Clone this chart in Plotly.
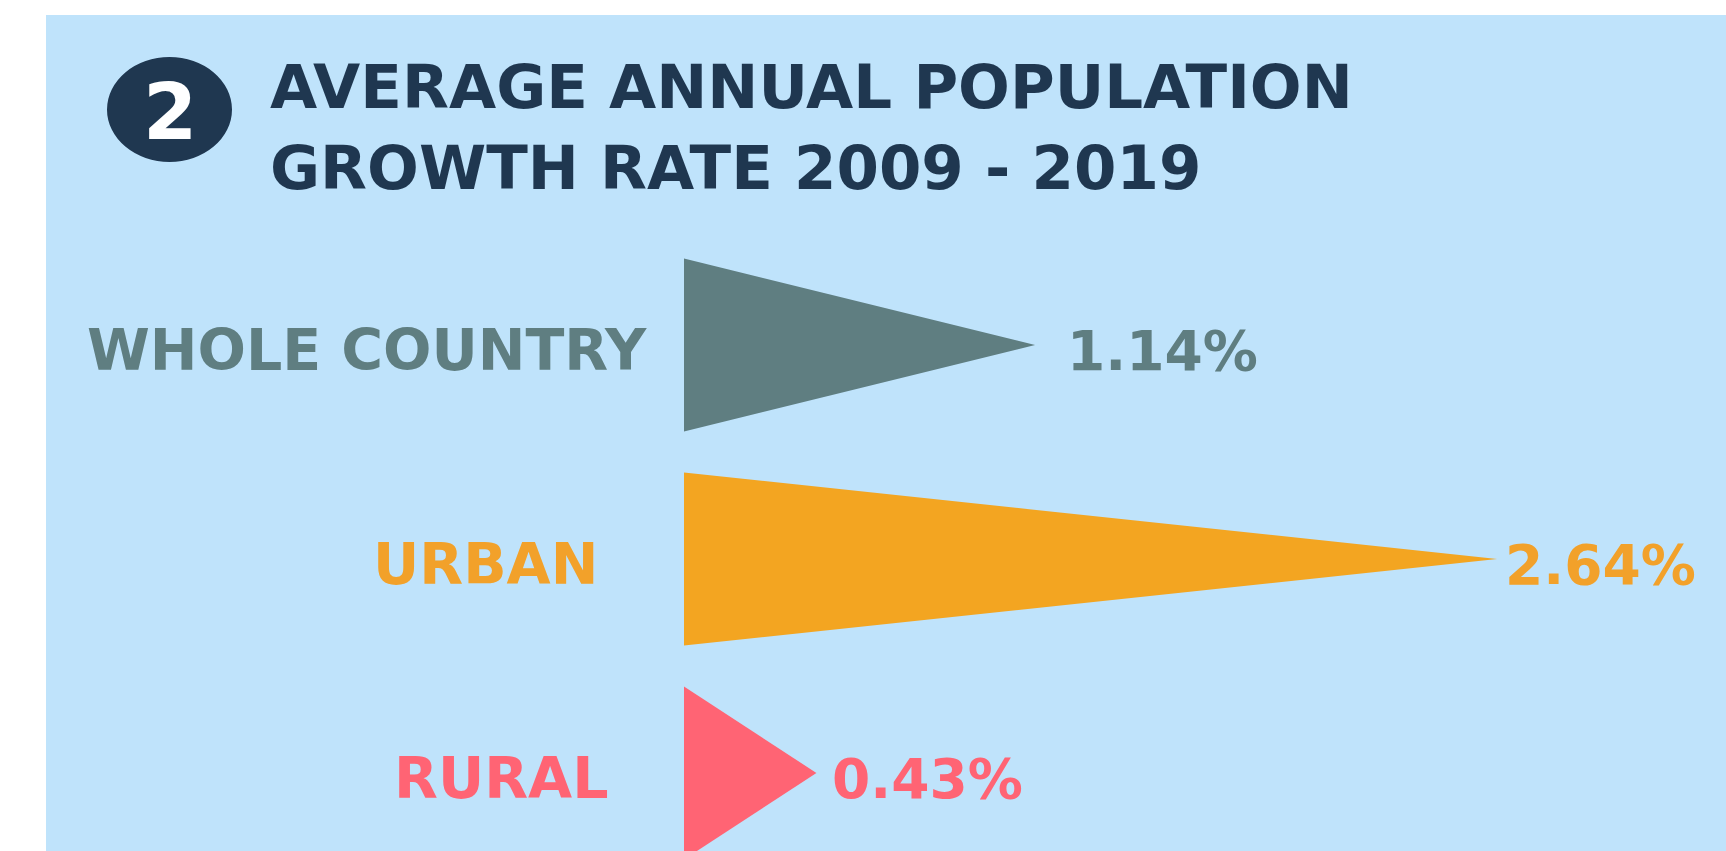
import plotly.graph_objects as go

# ---- data ----
categories = ["WHOLE COUNTRY", "URBAN", "RURAL"]
growth_rates = [1.14, 2.64, 0.43]          # average annual growth rate, %
value_labels = ["1.14%", "2.64%", "0.43%"]
title_lines = ["AVERAGE ANNUAL POPULATION", "GROWTH RATE 2009 - 2019"]
badge_number = "2"

# ---- styles ----
colors = ["#5f7e81", "#f3a521", "#ff6474"]
label_colors = ["#5f7e81", "#f2a12a", "#ff6474"]
W, H = 1726, 851
BG_PANEL = "#bfe3fb"
NAVY = "#1f3750"
FONT = "DejaVu Sans"

# pixel layout helpers (positions only)
x_zero_px, px_per_pct = 684, 308
y_first_px, y_step_px = 345, 214
half_h = 0.404
cat_label_right_px = [649, 600, 611]
value_xshift = [30, 6, 14]

x_range = [-x_zero_px / px_per_pct, (W - x_zero_px) / px_per_pct]
y_range = [(H - y_first_px) / y_step_px, -y_first_px / y_step_px]

fig = go.Figure()

for i, (cat, v) in enumerate(zip(categories, growth_rates)):
    fig.add_trace(go.Scatter(
        x=[0, 0, v, 0],
        y=[i - half_h, i + half_h, i, i - half_h],
        mode="lines",
        fill="toself",
        fillcolor=colors[i],
        line=dict(width=0, color=colors[i]),
        hoverinfo="skip",
        showlegend=False,
        name=cat,
    ))

annotations = []
for i, cat in enumerate(categories):
    annotations.append(dict(
        x=cat_label_right_px[i] / W, xref="paper", y=i, yref="y", yshift=-5,
        text=f"<b>{cat}</b>", showarrow=False, xanchor="right", yanchor="middle",
        font=dict(family=FONT, size=57, color=label_colors[i]),
    ))
    annotations.append(dict(
        x=growth_rates[i], xref="x", y=i, yref="y", xshift=value_xshift[i], yshift=-6,
        text=f"<b>{value_labels[i]}</b>", showarrow=False, xanchor="left", yanchor="middle",
        font=dict(family=FONT, size=55, color=label_colors[i]),
    ))

# title lines
for j, (line, ypx) in enumerate(zip(title_lines, [86, 168])):
    annotations.append(dict(
        x=268 / W, xref="paper", y=1 - ypx / H, yref="paper",
        text=f"<b>{line}</b>", showarrow=False, xanchor="left", yanchor="middle",
        font=dict(family=FONT, size=61, color=NAVY),
    ))

# badge number
annotations.append(dict(
    x=170 / W, xref="paper", y=1 - 112 / H, yref="paper",
    text=f"<b>{badge_number}</b>", showarrow=False, xanchor="center", yanchor="middle",
    font=dict(family=FONT, size=78, color="white"),
))

shapes = [
    dict(type="rect", xref="paper", yref="paper",
         x0=46 / W, x1=1, y0=0, y1=1 - 15 / H,
         fillcolor=BG_PANEL, line=dict(width=0), layer="below"),
    dict(type="circle", xref="paper", yref="paper",
         x0=107 / W, x1=232 / W, y0=1 - 162 / H, y1=1 - 57 / H,
         fillcolor=NAVY, line=dict(width=0), layer="below"),
]

fig.update_layout(
    width=W, height=H,
    margin=dict(l=0, r=0, t=0, b=0),
    paper_bgcolor="white",
    plot_bgcolor="rgba(0,0,0,0)",
    xaxis=dict(range=x_range, visible=False, fixedrange=True),
    yaxis=dict(range=y_range, visible=False, fixedrange=True),
    shapes=shapes,
    annotations=annotations,
    showlegend=False,
)

fig.write_html("out.html")
